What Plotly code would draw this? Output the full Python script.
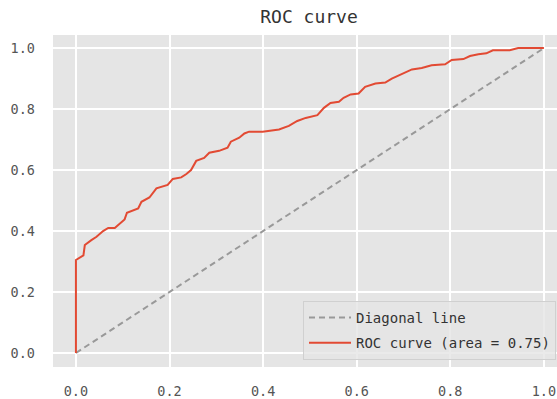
import plotly.graph_objects as go

# ROC curve points
fpr = [0.0, 0.0, 0.016, 0.019, 0.033, 0.044, 0.058, 0.069, 0.083, 0.094, 0.104, 0.109,
       0.133, 0.14, 0.157, 0.172, 0.196, 0.207, 0.225, 0.236, 0.246, 0.257, 0.274,
       0.285, 0.306, 0.324, 0.331, 0.349, 0.36, 0.37, 0.399, 0.434, 0.455, 0.473,
       0.491, 0.516, 0.53, 0.544, 0.562, 0.572, 0.587, 0.604, 0.618, 0.64, 0.661,
       0.675, 0.696, 0.718, 0.739, 0.76, 0.789, 0.803, 0.828, 0.842, 0.86, 0.877,
       0.891, 0.927, 0.945, 0.994, 1.0]
tpr = [0.0, 0.305, 0.32, 0.354, 0.37, 0.381, 0.40, 0.41, 0.41, 0.425, 0.438, 0.46,
       0.474, 0.496, 0.51, 0.54, 0.551, 0.571, 0.576, 0.587, 0.6, 0.63, 0.64,
       0.657, 0.663, 0.673, 0.693, 0.706, 0.72, 0.726, 0.726, 0.733, 0.745, 0.761,
       0.771, 0.78, 0.804, 0.82, 0.824, 0.837, 0.848, 0.851, 0.873, 0.884, 0.887,
       0.9, 0.915, 0.93, 0.935, 0.944, 0.947, 0.961, 0.964, 0.974, 0.98, 0.983,
       0.993, 0.993, 1.0, 1.0, 1.0]
diag_x = [0, 1]
diag_y = [0, 1]
auc_label = "ROC curve (area = 0.75)"
ticks = [0.0, 0.2, 0.4, 0.6, 0.8, 1.0]
tick_text = ["0.0", "0.2", "0.4", "0.6", "0.8", "1.0"]

FONT = "DejaVu Sans Mono, Liberation Mono, monospace"

fig = go.Figure()
fig.add_trace(go.Scatter(x=diag_x, y=diag_y, mode="lines", name="Diagonal line",
                         legendgroup="a",
                         line=dict(color="#999999", width=2, dash="6px,4px")))
fig.add_trace(go.Scatter(x=fpr, y=tpr, mode="lines", name=auc_label,
                         legendgroup="b",
                         line=dict(color="#E24A33", width=2)))

fig.update_layout(
    width=557, height=399,
    margin=dict(l=53, r=0, t=35, b=32),
    paper_bgcolor="white", plot_bgcolor="#E5E5E5",
    font=dict(family=FONT, size=13.5, color="#555555"),
    title=dict(text="ROC curve", x=309/557, xref="container", xanchor="center",
               y=1 - 17/399, yref="container", yanchor="middle",
               font=dict(family=FONT, size=18, color="#333333")),
    showlegend=True,
    legend=dict(x=(303-53)/504, xanchor="left", y=(367-360)/332, yanchor="bottom",
                bgcolor="rgba(229,229,229,0.8)", bordercolor="#D0D0D0", borderwidth=1,
                font=dict(family=FONT, size=14, color="#333333"),
                tracegroupgap=4, itemwidth=42),
)
fig.update_xaxes(range=[-0.049, 1.028], tickvals=ticks, ticktext=tick_text,
                 showgrid=True, gridcolor="white", gridwidth=1.5, zeroline=False,
                 showline=False, ticks="", ticklabelstandoff=14, fixedrange=True)
fig.update_yaxes(range=[-0.046, 1.043], tickvals=ticks, ticktext=tick_text,
                 showgrid=True, gridcolor="white", gridwidth=1.5, zeroline=False,
                 showline=False, ticks="", ticklabelstandoff=17, fixedrange=True)

fig.write_html("out.html")
